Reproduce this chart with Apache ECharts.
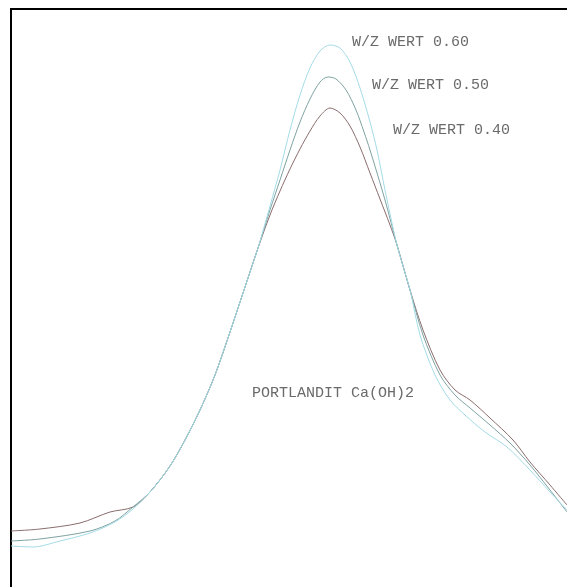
<!DOCTYPE html>
<html>
<head>
<meta charset="utf-8">
<script src="https://cdn.jsdelivr.net/npm/echarts@6/dist/echarts.min.js"></script>
<style>
  html, body { margin: 0; padding: 0; background: #fff; }
  #chart { width: 567px; height: 587px; }
</style>
</head>
<body>
<div id="chart"></div>
<script>
// x = position along the scan, y = intensity (both in plot units)
const x040 = [11, 40, 80, 110, 133, 150, 170, 185, 200, 215, 230, 245, 258, 270, 280, 290, 300, 310, 320, 330, 340, 350, 360, 370, 380, 390, 397, 410, 423, 440, 455, 470, 490, 513, 530, 550, 567];
const y040 = [56, 58, 64, 75, 80, 95, 121, 147, 177, 212, 255, 300, 339, 372, 396, 418, 438, 456, 471, 479, 474, 461, 440, 414, 388, 362, 342, 297, 257, 217, 197, 187, 169, 147, 125, 102, 82];

const x050 = [11, 40, 90, 115, 133, 150, 170, 185, 200, 215, 230, 245, 258, 270, 280, 290, 300, 310, 320, 328, 336, 346, 356, 364, 370, 385, 397, 410, 423, 440, 455, 470, 490, 510, 530, 550, 567];
const y050 = [46, 48, 56, 66, 80, 95, 121, 147, 177, 212, 255, 300, 339, 377, 407, 437, 465, 488, 505, 510, 508, 497, 477, 455, 437, 387, 342, 297, 252, 212, 192, 179, 162, 144, 122, 97, 75];

const x060 = [11, 33, 60, 90, 115, 133, 150, 170, 185, 200, 215, 230, 245, 258, 270, 280, 290, 300, 310, 320, 330, 340, 350, 360, 370, 377, 385, 397, 410, 420, 435, 450, 465, 485, 507, 530, 550, 567];
const y060 = [41, 40, 46, 54, 65, 78, 95, 121, 147, 177, 212, 255, 300, 339, 381, 417, 457, 492, 519, 536, 542, 539, 525, 499, 465, 437, 397, 342, 297, 252, 212, 187, 172, 155, 140, 117, 95, 77];

const labels = ["W/Z WERT 0.60", "W/Z WERT 0.50", "W/Z WERT 0.40"];
const caption = "PORTLANDIT Ca(OH)2";

function pairs(xs, ys) {
  return xs.map((v, i) => [v, ys[i]]);
}

const chart = echarts.init(document.getElementById("chart"));
const textStyle = { fontFamily: "Liberation Mono", fontSize: 15, fill: "#6a6a6a" };

chart.setOption({
  animation: false,
  grid: { left: 11, right: 0, top: 9, bottom: 0 },
  xAxis: {
    type: "value", min: 11, max: 567,
    axisLine: { show: false }, axisTick: { show: false },
    axisLabel: { show: false }, splitLine: { show: false }
  },
  yAxis: {
    type: "value", min: 0, max: 578,
    axisLine: { show: false }, axisTick: { show: false },
    axisLabel: { show: false }, splitLine: { show: false }
  },
  series: [
    { type: "line", data: pairs(x040, y040), smooth: 0.3, symbol: "none",
      lineStyle: { color: "#8a6d6d", width: 1 } },
    { type: "line", data: pairs(x050, y050), smooth: 0.3, symbol: "none",
      lineStyle: { color: "#7fa2a2", width: 1 } },
    { type: "line", data: pairs(x060, y060), smooth: 0.3, symbol: "none",
      lineStyle: { color: "#a3dbe6", width: 1 } }
  ],
  graphic: [
    { type: "line", shape: { x1: 10, y1: 9, x2: 567, y2: 9 }, style: { stroke: "#000", lineWidth: 2 } },
    { type: "line", shape: { x1: 11, y1: 8, x2: 11, y2: 587 }, style: { stroke: "#000", lineWidth: 2 } },
    { type: "text", left: 352, top: 35, style: Object.assign({ text: labels[0] }, textStyle) },
    { type: "text", left: 372, top: 78, style: Object.assign({ text: labels[1] }, textStyle) },
    { type: "text", left: 393, top: 123, style: Object.assign({ text: labels[2] }, textStyle) },
    { type: "text", left: 252, top: 386, style: Object.assign({ text: caption }, textStyle) }
  ]
});
</script>
</body>
</html>
